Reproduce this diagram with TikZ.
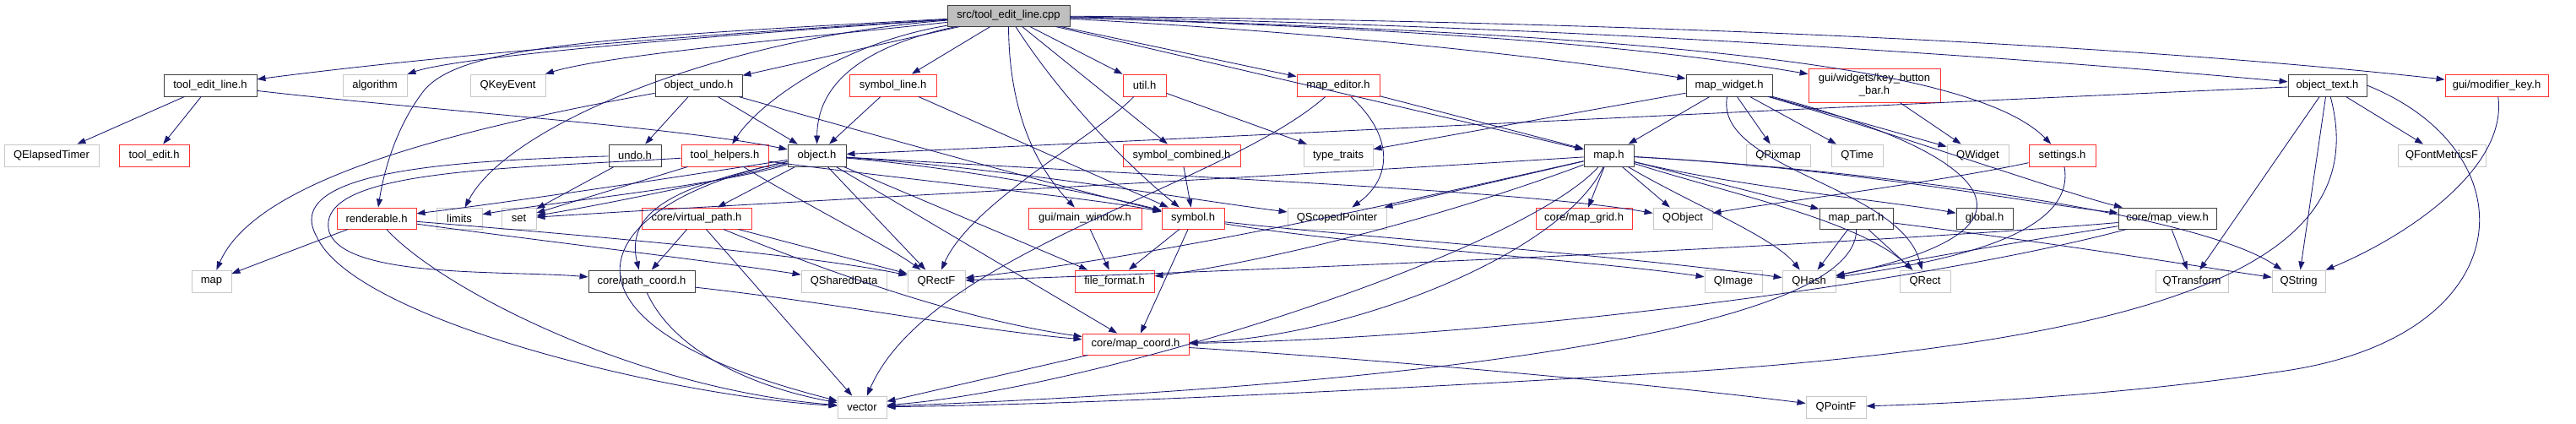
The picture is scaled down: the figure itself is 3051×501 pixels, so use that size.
\documentclass[tikz,border=0pt]{standalone}
\usepackage{fontspec}
\setmainfont{Liberation Sans}
\usetikzlibrary{arrows.meta}
\definecolor{eb}{HTML}{191970}
\definecolor{gg}{HTML}{BFBFBF}
\definecolor{gl}{HTML}{C8C8C8}
\definecolor{nr}{HTML}{FF3030}
\definecolor{bk}{HTML}{404040}
\begin{document}
\begin{tikzpicture}[x=1pt,y=-1pt,
  bxbase/.style={rectangle,draw,inner sep=0pt,minimum height=26pt,line width=0.9pt,text=black,font=\fontsize{13}{15}\selectfont,align=center},
  bx/.style={bxbase,draw=bk},
  gx/.style={bxbase,draw=gl},
  rx/.style={bxbase,draw=nr},
  W/.style={minimum width=#1pt},
  dep/.style={draw=eb,line width=0.85pt,-{Triangle[length=10pt,width=7pt]}}]
\useasboundingbox (0,0) rectangle (3051,501);
\fill[white] (0,0) rectangle (3051,501);
% row 0
\node[bx,W=145,minimum height=25pt,fill=gg] (root) at (1194.5,18.5) {src/tool\_edit\_line.cpp};
% row 1
\node[bx,W=110] (tel) at (249,101) {tool\_edit\_line.h};
\node[gx,W=76] (algorithm) at (444,101) {algorithm};
\node[gx,W=89] (QKeyEvent) at (601.5,101) {QKeyEvent};
\node[bx,W=103] (objundo) at (827.5,101) {object\_undo.h};
\node[rx,W=103] (symline) at (1057.5,101) {symbol\_line.h};
\node[rx,W=51] (util) at (1355.5,101) {util.h};
\node[rx,W=98] (mapeditor) at (1585,101) {map\_editor.h};
\node[bx,W=102] (mapwidget) at (2048,101) {map\_widget.h};
\node[rx,W=156,minimum height=40pt] (keybar) at (2220,101) {gui/widgets/key\_button\\\_bar.h};
\node[bx,W=93] (objtext) at (2756.5,101) {object\_text.h};
\node[rx,W=122] (modkey) at (2957,101) {gui/modifier\_key.h};
% row 2
\node[gx,W=112] (QElapsedTimer) at (61,184) {QElapsedTimer};
\node[rx,W=83] (tooledit) at (182.5,184) {tool\_edit.h};
\node[bx,W=62] (undo) at (752,184) {undo.h};
\node[rx,W=103] (toolhelpers) at (858.5,184) {tool\_helpers.h};
\node[bx,W=69] (object) at (967.5,184) {object.h};
\node[rx,W=139] (symcomb) at (1399.5,184) {symbol\_combined.h};
\node[gx,W=82] (typetraits) at (1585,184) {type\_traits};
\node[bx,W=59] (map) at (1905.5,184) {map.h};
\node[gx,W=76] (QPixmap) at (2106,184) {QPixmap};
\node[gx,W=61] (QTime) at (2199.5,184) {QTime};
\node[gx,W=73] (QWidget) at (2342.5,184) {QWidget};
\node[rx,W=79] (settings) at (2442.5,184) {settings.h};
\node[gx,W=104] (QFontMetricsF) at (2892,184) {QFontMetricsF};
% row 3
\node[rx,W=94,minimum height=25pt] (renderable) at (446,258.5) {renderable.h};
\node[gx,W=54,minimum height=25pt] (limits) at (544,258.5) {limits};
\node[gx,W=41,minimum height=25pt] (set) at (614.5,258.5) {set};
\node[rx,W=130,minimum height=25pt] (virtualpath) at (825,258.5) {core/virtual\_path.h};
\node[rx,W=134,minimum height=25pt] (mainwindow) at (1285,258.5) {gui/main\_window.h};
\node[rx,W=74,minimum height=25pt] (symbol) at (1413,258.5) {symbol.h};
\node[gx,W=117,minimum height=25pt] (QScopedPointer) at (1583.5,258.5) {QScopedPointer};
\node[rx,W=114,minimum height=25pt] (mapgrid) at (1876,258.5) {core/map\_grid.h};
\node[gx,W=70,minimum height=25pt] (QObject) at (1993,258.5) {QObject};
\node[bx,W=87,minimum height=25pt] (mappart) at (2198.5,258.5) {map\_part.h};
\node[bx,W=67,minimum height=25pt] (global) at (2350.5,258.5) {global.h};
\node[bx,W=116,minimum height=25pt] (mapview) at (2567,258.5) {core/map\_view.h};
% row 4
\node[gx,W=47] (stdmap) at (250.5,333) {map};
\node[bx,W=126] (pathcoord) at (760,333) {core/path\_coord.h};
\node[gx,W=101] (QSharedData) at (999.5,333) {QSharedData};
\node[gx,W=68] (QRectF) at (1109,333) {QRectF};
\node[rx,W=94] (fileformat) at (1320,333) {file\_format.h};
\node[gx,W=68] (QImage) at (2053,333) {QImage};
\node[gx,W=63] (QHash) at (2142.5,333) {QHash};
\node[gx,W=60] (QRect) at (2280,333) {QRect};
\node[gx,W=86] (QTransform) at (2596,333) {QTransform};
\node[gx,W=63] (QString) at (2722.5,333) {QString};
% row 5,6
\node[rx,W=126,minimum height=25pt] (mapcoord) at (1345,407.5) {core/map\_coord.h};
\node[gx,W=58] (vector) at (1021,482) {vector};
\node[gx,W=71] (QPointF) at (2174.5,482) {QPointF};

% ---- edges from root
\draw[dep] (root) .. controls (850,40) and (550,62) .. (tel);
\draw[dep] (root) .. controls (800,45) and (540,68) .. (algorithm);
\draw[dep] (root) .. controls (950,45) and (720,65) .. (QKeyEvent);
\draw[dep] (root) .. controls (700,45) and (540,55) .. (500,110) .. controls (470,150) and (455,200) .. (renderable);
\draw[dep] (root) .. controls (850,45) and (600,150) .. (limits);
\draw[dep] (root) -- (objundo);
\draw[dep] (root) .. controls (1000,50) and (900,120) .. (toolhelpers);
\draw[dep] (root) .. controls (1020,55) and (968,100) .. (object);
\draw[dep] (root) -- (symline);
\draw[dep] (root.south) .. controls (1195,120) and (1220,190) .. (mainwindow);
\draw[dep] (root) .. controls (1260,120) and (1340,200) .. (symbol);
\draw[dep] (root) -- (symcomb);
\draw[dep] (root) -- (util);
\draw[dep] (root) -- (mapeditor);
\draw[dep] (root) -- (map);
\draw[dep] (root) .. controls (1600,40) and (1850,70) .. (mapwidget);
\draw[dep] (root) .. controls (1700,35) and (1950,55) .. (keybar);
\draw[dep] (root) .. controls (1800,30) and (2300,60) .. (objtext);
\draw[dep] (root) .. controls (1900,25) and (2500,50) .. (modkey);
\draw[dep] (root) .. controls (1900,40) and (2330,70) .. (settings);
% tool_edit_line.h
\draw[dep] (tel) -- (QElapsedTimer);
\draw[dep] (tel) -- (tooledit);
\draw[dep] (tel) .. controls (500,130) and (800,150) .. (object);
% object_undo.h
\draw[dep] (objundo) -- (undo);
\draw[dep] (objundo) -- (object);
\draw[dep] (objundo) .. controls (1000,150) and (1250,220) .. (symbol);
\draw[dep] (objundo) .. controls (500,160) and (300,220) .. (stdmap);
% undo.h
\draw[dep] (undo) -- (set);
\draw[dep] (undo) .. controls (550,190) and (330,200) .. (375,280) .. controls (420,380) and (800,470) .. (vector);
% tool_helpers.h
\draw[dep] (toolhelpers) -- (set);
\draw[dep] (toolhelpers) .. controls (600,200) and (370,200) .. (390,275) .. controls (410,330) and (600,320) .. (pathcoord);
\draw[dep] (toolhelpers) .. controls (950,240) and (1050,290) .. (QRectF);
\draw[dep] (toolhelpers) .. controls (1050,210) and (1300,235) .. (symbol);
% object.h
\draw[dep] (object) .. controls (800,210) and (600,240) .. (renderable);
\draw[dep] (object) .. controls (850,215) and (700,245) .. (set);
\draw[dep] (object) .. controls (850,220) and (650,240) .. (limits);
\draw[dep] (object) -- (virtualpath);
\draw[dep] (object) .. controls (800,220) and (740,250) .. (pathcoord);
\draw[dep] (object) .. controls (700,240) and (620,380) .. (vector);
\draw[dep] (object) -- (QRectF);
\draw[dep] (object) -- (fileformat);
\draw[dep] (object) -- (mapcoord);
\draw[dep] (object) .. controls (1150,200) and (1300,230) .. (symbol);
\draw[dep] (object) .. controls (1200,200) and (1400,235) .. (QScopedPointer);
\draw[dep] (object) .. controls (1400,210) and (1800,225) .. (QObject);
% renderable.h
\draw[dep] (renderable) -- (stdmap);
\draw[dep] (renderable) .. controls (520,340) and (750,460) .. (vector);
\draw[dep] (renderable) .. controls (600,280) and (850,310) .. (QSharedData);
\draw[dep] (renderable) .. controls (650,275) and (950,300) .. (QRectF);
% virtual_path
\draw[dep] (virtualpath) -- (pathcoord);
\draw[dep] (virtualpath) -- (vector);
\draw[dep] (virtualpath) .. controls (1000,330) and (1150,380) .. (mapcoord);
\draw[dep] (virtualpath) -- (QRectF);
% path_coord
\draw[dep] (pathcoord) .. controls (1000,360) and (1150,390) .. (mapcoord);
\draw[dep] (pathcoord) .. controls (800,420) and (900,460) .. (vector);
% map_coord
\draw[dep] (mapcoord) -- (vector);
\draw[dep] (mapcoord) .. controls (1700,430) and (2000,460) .. (QPointF);
% symbol stuff
\draw[dep] (symline) -- (object);
\draw[dep] (symline) -- (symbol);
\draw[dep] (symcomb) -- (symbol);
\draw[dep] (util) -- (typetraits);
\draw[dep] (util) .. controls (1300,160) and (1150,240) .. (QRectF);
\draw[dep] (mainwindow) -- (fileformat);
\draw[dep] (symbol) -- (fileformat);
\draw[dep] (symbol) -- (mapcoord);
\draw[dep] (symbol) .. controls (1600,290) and (1900,310) .. (QImage);
\draw[dep] (symbol) .. controls (1600,280) and (1900,300) .. (QHash);
% map_editor
\draw[dep] (mapeditor) -- (map);
\draw[dep] (mapeditor) .. controls (1650,160) and (1650,210) .. (QScopedPointer);
\draw[dep] (mapeditor) .. controls (1450,220) and (1100,300) .. (vector);
% map.h
\draw[dep] (map) -- (QScopedPointer);
\draw[dep] (map) -- (mapgrid);
\draw[dep] (map) -- (QObject);
\draw[dep] (map) .. controls (1500,210) and (900,240) .. (set);
\draw[dep] (map) .. controls (1700,260) and (1500,310) .. (fileformat);
\draw[dep] (map) .. controls (1700,230) and (1400,300) .. (QRectF);
\draw[dep] (map) .. controls (1800,300) and (1300,460) .. (vector);
\draw[dep] (map) .. controls (1850,300) and (1600,400) .. (mapcoord);
\draw[dep] (map) -- (mappart);
\draw[dep] (map) .. controls (2050,220) and (2250,240) .. (global);
\draw[dep] (map) .. controls (2050,230) and (2200,260) .. (QRect);
\draw[dep] (map) .. controls (2000,240) and (2100,280) .. (QHash);
\draw[dep] (map) .. controls (2200,200) and (2600,250) .. (QString);
\draw[dep] (map) .. controls (2200,200) and (2400,240) .. (mapview);
% map_widget
\draw[dep] (mapwidget) -- (map);
\draw[dep] (mapwidget) -- (typetraits);
\draw[dep] (mapwidget) -- (QPixmap);
\draw[dep] (mapwidget) -- (QTime);
\draw[dep] (mapwidget) -- (QWidget);
\draw[dep] (mapwidget) .. controls (2250,160) and (2450,230) .. (mapview);
\draw[dep] (mapwidget) .. controls (2030,200) and (2250,220) .. (QRect);
\draw[dep] (mapwidget) .. controls (2350,180) and (2450,270) .. (QHash);
% others
\draw[dep] (keybar) -- (QWidget);
\draw[dep] (objtext) .. controls (2200,125) and (1500,160) .. (object);
\draw[dep] (objtext) -- (QFontMetricsF);
\draw[dep] (objtext) -- (QTransform);
\draw[dep] (objtext) -- (QString);
\draw[dep] (objtext) .. controls (2810,300) and (2600,400) .. (2000,440) .. controls (1500,470) and (1200,480) .. (vector);
\draw[dep] (objtext.east) .. controls (3000,180) and (2990,400) .. (2700,440) .. controls (2500,470) and (2300,478) .. (QPointF);
\draw[dep] (modkey) .. controls (2970,200) and (2850,280) .. (QString);
\draw[dep] (settings) .. controls (2300,215) and (2100,240) .. (QObject);
\draw[dep] (settings) .. controls (2460,280) and (2300,310) .. (QHash);
\draw[dep] (mappart) -- (QHash);
\draw[dep] (mappart) -- (QRect);
\draw[dep] (mappart) .. controls (2200,400) and (1600,460) .. (vector);
\draw[dep] (mappart) .. controls (2450,290) and (2600,315) .. (QString);
\draw[dep] (mapview) -- (QTransform);
\draw[dep] (mapview) .. controls (2400,285) and (2250,310) .. (QHash);
\draw[dep] (mapview) .. controls (2300,330) and (1800,400) .. (mapcoord);
\draw[dep] (mapview) .. controls (2200,290) and (1500,320) .. (QRectF);
\end{tikzpicture}
\end{document}
